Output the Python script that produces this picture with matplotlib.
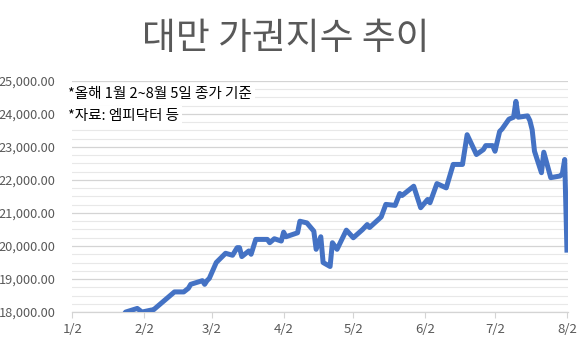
import pandas as pd
import numpy as np
import matplotlib.pyplot as plt
from matplotlib.ticker import MultipleLocator, FuncFormatter

plt.rcParams['font.family'] = ['Noto Sans CJK KR', 'DejaVu Sans']

# 데이터
dates = [
    "2024-01-02", "2024-01-17", "2024-01-24", "2024-01-25", "2024-01-30",
    "2024-02-01", "2024-02-05", "2024-02-06", "2024-02-15", "2024-02-19",
    "2024-02-21", "2024-02-22", "2024-02-27", "2024-02-28", "2024-02-29",
    "2024-03-01", "2024-03-04", "2024-03-08", "2024-03-11", "2024-03-13",
    "2024-03-14", "2024-03-15", "2024-03-18", "2024-03-19", "2024-03-21",
    "2024-03-26", "2024-03-27", "2024-03-29", "2024-04-01", "2024-04-02",
    "2024-04-03", "2024-04-08", "2024-04-09", "2024-04-12", "2024-04-15",
    "2024-04-16", "2024-04-18", "2024-04-19", "2024-04-22", "2024-04-23",
    "2024-04-25", "2024-04-29", "2024-05-02", "2024-05-06", "2024-05-08",
    "2024-05-09", "2024-05-14", "2024-05-16", "2024-05-20", "2024-05-22",
    "2024-05-23", "2024-05-28", "2024-05-31", "2024-06-03", "2024-06-04",
    "2024-06-07", "2024-06-11", "2024-06-14", "2024-06-18", "2024-06-20",
    "2024-06-24", "2024-06-27", "2024-06-28", "2024-07-01", "2024-07-02",
    "2024-07-04", "2024-07-05", "2024-07-08", "2024-07-10", "2024-07-11",
    "2024-07-12", "2024-07-16", "2024-07-17", "2024-07-18", "2024-07-19",
    "2024-07-22", "2024-07-23", "2024-07-26", "2024-07-30", "2024-07-31",
    "2024-08-01", "2024-08-02",
]
closes = [
    17850, 17450, 17900, 18000, 18110,
    18000, 18060, 18070, 18610, 18610,
    18720, 18840, 18950, 18840, 18950,
    19020, 19500, 19780, 19720, 19950,
    19950, 19680, 19850, 19750, 20200,
    20200, 20100, 20220, 20150, 20420,
    20280, 20400, 20750, 20700, 20450,
    19900, 20280, 19500, 19380, 20100,
    19900, 20480, 20250, 20500, 20650,
    20560, 20880, 21260, 21230, 21590,
    21530, 21810, 21160, 21410, 21310,
    21890, 21760, 22470, 22470, 23370,
    22770, 22920, 23040, 23040, 22870,
    23470, 23540, 23840, 23900, 24380,
    23900, 23940, 23800, 23520, 22870,
    22220, 22840, 22070, 22120, 22190,
    22620, 19800,
]
tick_dates = ["2024-01-02", "2024-02-02", "2024-03-02", "2024-04-02",
              "2024-05-02", "2024-06-02", "2024-07-02", "2024-08-02"]
tick_labels = ["1/2", "2/2", "3/2", "4/2", "5/2", "6/2", "7/2", "8/2"]

title = "대만 가권지수 추이"
notes = ["*올해 1월 2~8월 5일 종가 기준", "*자료: 엠피닥터 등"]

start = pd.Timestamp("2024-01-02")
x = (pd.to_datetime(dates) - start).days.values
xt = (pd.to_datetime(tick_dates) - start).days.values

fig = plt.figure(figsize=(5.78, 3.37), dpi=100)
ax = fig.add_axes([0.125, 0.074, 0.858, 0.686])

gray = '#595959'
ax.plot(x, closes, color='#4472C4', lw=3.6, solid_joinstyle='round',
        solid_capstyle='butt', zorder=3, clip_on=True)

ax.set_xlim(0, 213.5)
ax.set_ylim(18000, 25000)

ax.yaxis.set_major_locator(MultipleLocator(1000))
ax.yaxis.set_minor_locator(MultipleLocator(250))
ax.yaxis.set_major_formatter(FuncFormatter(lambda v, p: f"{v:,.2f}"))
ax.grid(True, axis='y', which='major', color='#d4d4d4', lw=0.9, zorder=0)
ax.grid(True, axis='y', which='minor', color='#e8e8e8', lw=0.8, zorder=0)

ax.set_xticks(xt)
ax.set_xticklabels(tick_labels)

for s in ['top', 'right', 'left']:
    ax.spines[s].set_visible(False)
ax.spines['bottom'].set_color('#d4d4d4')
ax.spines['bottom'].set_linewidth(0.9)

ax.tick_params(axis='y', which='both', length=0, labelsize=9.2, labelcolor=gray, pad=12)
ax.tick_params(axis='x', length=4, color='#d4d4d4', labelsize=9.5, labelcolor=gray, pad=4)

fig.text(0.495, 0.885, title, ha='center', va='center', fontsize=26.5, color=gray)

ax.text(-0.008, 0.945, notes[0], transform=ax.transAxes, ha='left', va='center',
        fontsize=10.5, color='black', zorder=4,
        bbox=dict(facecolor='white', edgecolor='none', pad=2))
ax.text(-0.008, 0.85, notes[1], transform=ax.transAxes, ha='left', va='center',
        fontsize=10.5, color='black', zorder=4,
        bbox=dict(facecolor='white', edgecolor='none', pad=2))

fig.savefig('out.png', dpi=100)
